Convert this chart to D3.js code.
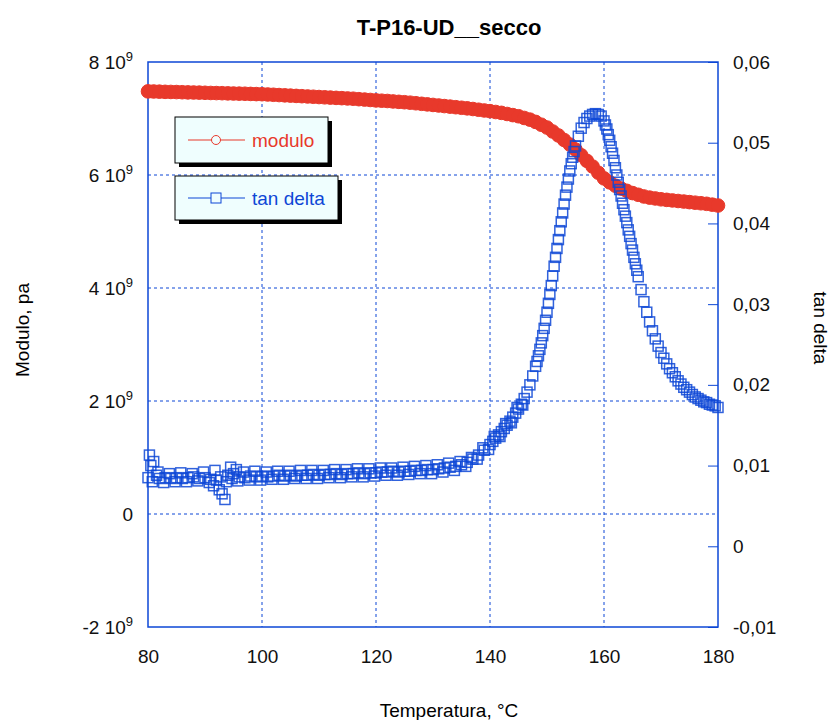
<!DOCTYPE html>
<html>
<head>
<meta charset="utf-8">
<script src="https://cdn.jsdelivr.net/npm/d3@7"></script>
<style>
  body { margin: 0; background: #fff; }
  text { font-family: "Liberation Sans", Arial, sans-serif; }
</style>
</head>
<body>
<script>
// data
const title = "T-P16-UD__secco";
const xTicks = [80, 100, 120, 140, 160, 180];
const leftTicks = [-2e9, 0, 2e9, 4e9, 6e9, 8e9];
const rightTicks = [-0.01, 0, 0.01, 0.02, 0.03, 0.04, 0.05, 0.06];

// modulo (Pa), one reading per degree 80..180
const modT = d3.range(80, 181);
const modVal = [
  7.48, 7.478, 7.475, 7.472, 7.47, 7.468, 7.465, 7.462, 7.46, 7.458,
  7.455, 7.452, 7.45, 7.448, 7.445, 7.442, 7.44, 7.438, 7.435, 7.432,
  7.43, 7.425, 7.42, 7.415, 7.41, 7.405, 7.40, 7.395, 7.39, 7.385,
  7.38, 7.375, 7.37, 7.365, 7.36, 7.355, 7.35, 7.342, 7.335, 7.328,
  7.32, 7.315, 7.31, 7.302, 7.295, 7.288, 7.28, 7.27, 7.26, 7.25,
  7.24, 7.23, 7.22, 7.21, 7.20, 7.19, 7.18, 7.168, 7.155, 7.142,
  7.13, 7.115, 7.10, 7.08, 7.06, 7.04, 7.01, 6.98, 6.94, 6.89,
  6.84, 6.77, 6.70, 6.62, 6.54, 6.45, 6.35, 6.25, 6.15, 6.04,
  5.94, 5.87, 5.81, 5.76, 5.72, 5.68, 5.65, 5.62, 5.60, 5.585,
  5.57, 5.56, 5.55, 5.54, 5.53, 5.52, 5.51, 5.50, 5.49, 5.475,
  5.46
].map(v => v * 1e9);

// tan delta
const tanT = [
  80, 80.25, 80.5, 81, 81.5, 82, 83, 84, 85, 86, 87, 88, 89, 90, 91, 91.5, 92, 92.5, 93, 93.5,
  94, 94.5, 95, 95.5, 96, 97, 98, 99, 100, 101, 102, 103, 104, 105, 106, 107, 108, 109, 110,
  111, 112, 113, 114, 115, 116, 117, 118, 119, 120, 121, 122, 123, 124, 125, 126, 127, 128, 129,
  130, 131, 132, 133, 134, 135, 136, 137, 138, 139, 140, 140.5, 141, 141.5, 142, 142.5, 143,
  143.5, 144, 144.5, 145, 145.5, 146, 146.5, 147, 147.5, 148, 148.25, 148.5, 148.75, 149,
  149.25, 149.5, 149.75, 150, 150.25, 150.5, 150.75, 151, 151.25, 151.5, 151.75, 152, 152.25,
  152.5, 152.75, 153, 153.25, 153.5, 153.75, 154, 154.25, 154.5, 154.75, 155, 155.5, 156,
  156.5, 157, 157.5, 158, 158.5, 159, 159.5, 160, 160.25, 160.5, 160.75, 161, 161.25, 161.5,
  161.75, 162, 162.25, 162.5, 162.75, 163, 163.25, 163.5, 163.75, 164, 164.25, 164.5, 164.75,
  165, 165.25, 165.5, 165.75, 166, 166.5, 167, 167.5, 168, 168.5, 169, 169.5, 170, 170.5, 171,
  171.5, 172, 172.5, 173, 173.5, 174, 174.5, 175, 175.5, 176, 176.5, 177, 177.5, 178, 178.5,
  179, 179.5, 180
];
const tanVal = [
  0.0085, 0.0113, 0.0100, 0.0105, 0.0088, 0.0084, 0.0085, 0.0084, 0.0085, 0.0084, 0.0085, 0.0086, 0.0084, 0.0085, 0.0083, 0.0075, 0.0082, 0.0070, 0.0065, 0.0058,
  0.0088, 0.0098, 0.0090, 0.0095, 0.0086, 0.0085, 0.0087, 0.0086, 0.0087, 0.0086, 0.0087, 0.0088, 0.0087, 0.0088, 0.0087, 0.0088, 0.0088, 0.0089, 0.0088,
  0.0089, 0.0089, 0.0090, 0.0089, 0.0090, 0.0090, 0.0091, 0.0090, 0.0091, 0.0091, 0.0092, 0.0092, 0.0093, 0.0092, 0.0093, 0.0093, 0.0094, 0.0094, 0.0095,
  0.0095, 0.0096, 0.0097, 0.0098, 0.0099, 0.0101, 0.0104, 0.0108, 0.0113, 0.0119, 0.0126, 0.0130, 0.0134, 0.0138, 0.0142, 0.0146, 0.0150,
  0.0155, 0.0160, 0.0165, 0.0170, 0.0176, 0.0183, 0.0191, 0.0200, 0.0211, 0.0223, 0.0229, 0.0236, 0.0244, 0.0252,
  0.0261, 0.0270, 0.0280, 0.0290, 0.0301, 0.0312, 0.0323, 0.0335, 0.0347, 0.0358, 0.0369, 0.0380, 0.0391,
  0.0402, 0.0413, 0.0424, 0.0435, 0.0445, 0.0455, 0.0465, 0.0474, 0.0482, 0.0489, 0.0496, 0.0508, 0.0518,
  0.0525, 0.0530, 0.0533, 0.0535, 0.0536, 0.0535, 0.0533, 0.0527, 0.0522, 0.0517, 0.0510, 0.0503, 0.0495, 0.0487,
  0.0478, 0.0469, 0.0460, 0.0451, 0.0442, 0.0434, 0.0425, 0.0417, 0.0409, 0.0401, 0.0392, 0.0384, 0.0375,
  0.0367, 0.0358, 0.0350, 0.0342, 0.0334, 0.0318, 0.0303, 0.0290, 0.0278, 0.0267, 0.0257, 0.0248, 0.0240, 0.0233, 0.0226,
  0.0220, 0.0215, 0.0210, 0.0205, 0.0201, 0.0197, 0.0194, 0.0191, 0.0188, 0.0185, 0.0183, 0.0181, 0.0179, 0.0178, 0.0176,
  0.0175, 0.0174, 0.0172
];

// tan delta, scattered readings around the low band (80.75 .. 145.75)
const tanT2 = d3.range(80.75, 146, 1);
const tanVal2 = [
  0.0080, 0.0092, 0.0079, 0.0090, 0.0080, 0.0091, 0.0080, 0.0090, 0.0081, 0.0092,
  0.0079, 0.0094, 0.0086, 0.0080, 0.0084, 0.0081, 0.0092, 0.0082, 0.0093, 0.0082,
  0.0092, 0.0083, 0.0093, 0.0083, 0.0093, 0.0084, 0.0094, 0.0084, 0.0094, 0.0084,
  0.0094, 0.0085, 0.0095, 0.0085, 0.0095, 0.0086, 0.0096, 0.0086, 0.0096, 0.0087,
  0.0097, 0.0088, 0.0097, 0.0088, 0.0098, 0.0089, 0.0099, 0.0090, 0.0100, 0.0090,
  0.0101, 0.0092, 0.0103, 0.0094, 0.0105, 0.0099, 0.0110, 0.0108, 0.0122, 0.0120,
  0.0136, 0.0136, 0.0152, 0.0153, 0.0172, 0.0175
];

const modData = modT.map((t, i) => ({ t: t, v: modVal[i] }));
const tanData = tanT.map((t, i) => ({ t: t, v: tanVal[i] }))
  .concat(tanT2.map((t, i) => ({ t: t, v: tanVal2[i] })));

// setup
const width = 834, height = 720;
const margin = { top: 62, right: 116, bottom: 93, left: 148 };
const red = "#e8392b", blue = "#0d47d6";

const svg = d3.select("body").append("svg")
  .attr("width", width)
  .attr("height", height);

const x = d3.scaleLinear().domain([80, 180]).range([margin.left, width - margin.right]);
const yL = d3.scaleLinear().domain([-2e9, 8e9]).range([height - margin.bottom, margin.top]);
const yR = d3.scaleLinear().domain([-0.01, 0.06]).range([height - margin.bottom, margin.top]);

// grid
svg.append("g").selectAll("line")
  .data(xTicks.slice(1, -1))
  .join("line")
  .attr("x1", d => x(d)).attr("x2", d => x(d))
  .attr("y1", margin.top).attr("y2", height - margin.bottom)
  .attr("stroke", blue).attr("stroke-width", 1).attr("stroke-dasharray", "3,3");

svg.append("g").selectAll("line")
  .data(leftTicks.slice(1, -1))
  .join("line")
  .attr("x1", margin.left).attr("x2", width - margin.right)
  .attr("y1", d => yL(d)).attr("y2", d => yL(d))
  .attr("stroke", blue).attr("stroke-width", 1).attr("stroke-dasharray", "3,3");

// axes
const fs = "19px";

const xAxis = svg.append("g")
  .attr("transform", `translate(0, ${height - margin.bottom})`)
  .call(d3.axisBottom(x).tickValues(xTicks).tickSize(0).tickPadding(23));
xAxis.select(".domain").remove();

const lAxis = svg.append("g")
  .attr("transform", `translate(${margin.left}, 0)`)
  .call(d3.axisLeft(yL).tickValues(leftTicks).tickSize(0).tickPadding(15).tickFormat(d => d / 1e9));
lAxis.select(".domain").remove();
lAxis.selectAll(".tick text").each(function(d) {
  const t = d3.select(this);
  t.text("").attr("dy", "0.36em");
  if (d === 0) { t.text("0"); return; }
  t.append("tspan").text((d / 1e9) + " 10");
  t.append("tspan").text("9").attr("dy", -8).style("font-size", "13px");
});

const rAxis = svg.append("g")
  .attr("transform", `translate(${width - margin.right}, 0)`)
  .call(d3.axisRight(yR).tickValues(rightTicks).tickSize(-10).tickPadding(15)
    .tickFormat(d => Math.abs(d) < 1e-9 ? "0" : d.toFixed(2).replace(".", ",")));
rAxis.select(".domain").remove();
rAxis.selectAll(".tick line").attr("stroke", blue);

svg.selectAll(".tick text")
  .style("font-size", fs)
  .attr("fill", "#111");

// frame
svg.append("rect")
  .attr("x", margin.left).attr("y", margin.top)
  .attr("width", width - margin.left - margin.right)
  .attr("height", height - margin.top - margin.bottom)
  .attr("fill", "none").attr("stroke", blue).attr("stroke-width", 1.5);

// modulo markers
svg.append("g").selectAll("circle")
  .data(modData)
  .join("circle")
  .attr("cx", d => x(d.t))
  .attr("cy", d => yL(d.v))
  .attr("r", 6.8)
  .attr("fill", red)
  .attr("stroke", red)
  .attr("stroke-width", 1);

// tan delta markers
svg.append("g").selectAll("rect")
  .data(tanData)
  .join("rect")
  .attr("x", d => x(d.t) - 5)
  .attr("y", d => yR(d.v) - 5)
  .attr("width", 10).attr("height", 10)
  .attr("fill", "none")
  .attr("stroke", blue)
  .attr("stroke-opacity", 0.85)
  .attr("stroke-width", 1.5);

// legend
const legend = [
  { name: "modulo", color: red, y: 117, w: 153, h: 46 },
  { name: "tan delta", color: blue, y: 176, w: 163, h: 44 }
];
legend.forEach((l, i) => {
  const g = svg.append("g");
  g.append("rect").attr("x", 179).attr("y", l.y + 4).attr("width", l.w).attr("height", l.h).attr("fill", "#000");
  g.append("rect").attr("x", 175).attr("y", l.y).attr("width", l.w).attr("height", l.h)
    .attr("fill", "#effefe").attr("stroke", "#000").attr("stroke-width", 1);
  const cy = l.y + l.h / 2;
  g.append("line").attr("x1", 188).attr("x2", 245).attr("y1", cy).attr("y2", cy)
    .attr("stroke", l.color).attr("stroke-width", 1);
  if (i === 0) {
    g.append("circle").attr("cx", 216).attr("cy", cy).attr("r", 4.5)
      .attr("fill", "#effefe").attr("stroke", l.color);
  } else {
    g.append("rect").attr("x", 211).attr("y", cy - 5).attr("width", 10).attr("height", 10)
      .attr("fill", "#effefe").attr("stroke", l.color);
  }
  g.append("text").attr("x", 252).attr("y", cy + 7)
    .style("font-size", fs).attr("fill", l.color).text(l.name);
});

// titles
svg.append("text")
  .attr("x", 449).attr("y", 35)
  .attr("text-anchor", "middle")
  .style("font-size", "22px").style("font-weight", "bold")
  .text(title);

svg.append("text")
  .attr("x", 449).attr("y", 717)
  .attr("text-anchor", "middle")
  .style("font-size", fs)
  .text("Temperatura, °C");

svg.append("text")
  .attr("transform", "translate(29, 330) rotate(-90)")
  .attr("text-anchor", "middle")
  .style("font-size", fs)
  .text("Modulo, pa");

svg.append("text")
  .attr("transform", "translate(814, 328) rotate(90)")
  .attr("text-anchor", "middle")
  .style("font-size", fs)
  .text("tan delta");
</script>
</body>
</html>
